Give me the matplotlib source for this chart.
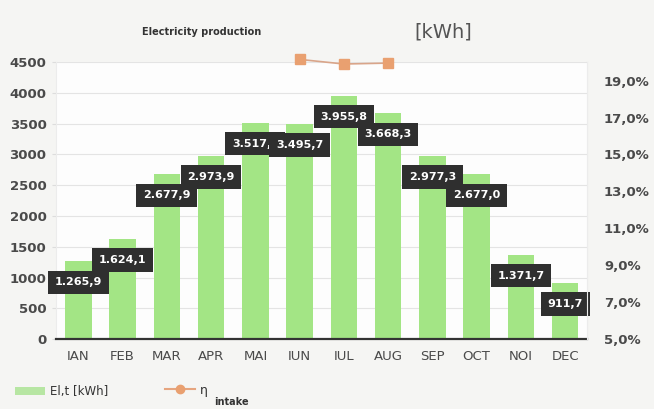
import matplotlib
matplotlib.use("Agg")
import matplotlib.pyplot as plt
import numpy as np

months = ["IAN", "FEB", "MAR", "APR", "MAI", "IUN", "IUL", "AUG", "SEP", "OCT", "NOI", "DEC"]
energy_kwh = [1265.9, 1624.1, 2677.9, 2973.9, 3517.0, 3495.7, 3955.8, 3668.3, 2977.3, 2677.0, 1371.7, 911.7]
eta_intake = [np.nan, np.nan, np.nan, np.nan, np.nan, 20.15, 19.9, 19.95, np.nan, np.nan, np.nan, np.nan]
left_ticks = [0, 500, 1000, 1500, 2000, 2500, 3000, 3500, 4000, 4500]
right_ticks = [5, 7, 9, 11, 13, 15, 17, 19]


def fmt_ro(v):
    s = f"{v:,.1f}"
    return s.replace(",", "X").replace(".", ",").replace("X", ".")


fig = plt.figure(figsize=(6.54, 4.09), dpi=100, facecolor="#f5f5f3")
ax = fig.add_axes([0.086, 0.171, 0.812, 0.677])
ax.set_facecolor("#fdfdfd")

x = np.arange(len(months))
ax.bar(x, energy_kwh, width=0.6, color="#a3e585", zorder=2)

ax.set_xlim(-0.5, len(months) - 0.5)
ax.set_ylim(0, 4500)
ax.set_yticks(left_ticks)
ax.set_yticklabels([str(t) for t in left_ticks], fontsize=9.5, color="#4a4a4a", fontweight="bold")
ax.set_xticks(x)
ax.set_xticklabels(months, fontsize=9.5, color="#4a4a4a")
ax.tick_params(axis="x", length=0, pad=8)
ax.tick_params(axis="y", length=3, color="#dddddd", pad=4)
ax.grid(axis="y", color="#e4e4e4", linewidth=0.8, zorder=0)
ax.spines["top"].set_visible(False)
for side in ["left", "right"]:
    ax.spines[side].set_color("#ececec")
ax.spines["bottom"].set_color("#333333")
ax.spines["bottom"].set_linewidth(1.6)

for xi, v in zip(x, energy_kwh):
    ax.annotate(fmt_ro(v), (xi, v), xytext=(0, -21), textcoords="offset pixels",
                ha="center", va="center", fontsize=8, color="white", fontweight="bold",
                bbox=dict(boxstyle="square,pad=0.6", fc="#2f2f2f", ec="none"), zorder=5)

ax2 = ax.twinx()
ax2.set_ylim(5, 20)
ax2.set_yticks(right_ticks)
ax2.set_yticklabels([f"{t},0%" for t in right_ticks], fontsize=9.5, color="#4a4a4a", fontweight="bold")
ax2.tick_params(axis="y", length=0, pad=12)
for side in ["top", "left", "bottom"]:
    ax2.spines[side].set_visible(False)
ax2.spines["right"].set_color("#ececec")
ax2.plot(x, eta_intake, color="#d9a58a", linewidth=1.2, marker="s", markersize=7,
         markerfacecolor="#e9a070", markeredgecolor="#e9a070", clip_on=False, zorder=6)

fig.text(0.217, 0.922, "Electricity production", fontsize=7, fontweight="bold", color="#333333",
         va="center")
fig.text(0.633, 0.922, "[kWh]", fontsize=14, color="#555555", va="center")

# legend row
fig.patches.append(plt.Rectangle((0.023, 0.035), 0.046, 0.018, transform=fig.transFigure,
                                 facecolor="#b7e6a3", edgecolor="none"))
fig.text(0.077, 0.044, "El,t [kWh]", fontsize=8.5, color="#333333", va="center")
fig.lines.append(plt.Line2D([0.252, 0.275, 0.298], [0.050, 0.050, 0.050], transform=fig.transFigure,
                            color="#e6a57f", linewidth=1.5, marker="o", markersize=6,
                            markevery=[1], markerfacecolor="#e9a070", markeredgecolor="#e9a070"))
fig.text(0.305, 0.046, "η", fontsize=9, color="#333333", va="center")
fig.text(0.328, 0.018, "intake", fontsize=7, color="#333333", va="center", fontweight="bold")

fig.savefig("out.png", dpi=100, facecolor=fig.get_facecolor())
